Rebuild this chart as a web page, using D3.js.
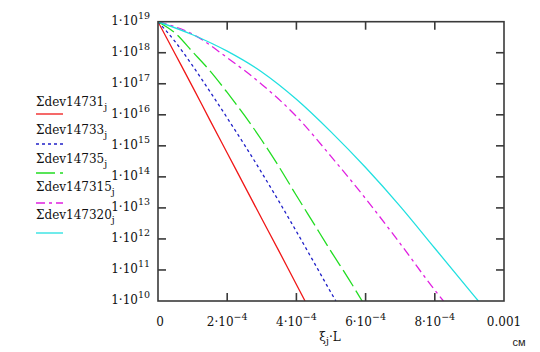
<!DOCTYPE html>
<html>
<head>
<meta charset="utf-8">
<script src="https://cdn.jsdelivr.net/npm/d3@7"></script>
<style>
  body { margin: 0; background: #fff; }
  svg { display: block; }
  .serif { font-family: "DejaVu Serif", "Liberation Serif", "Times New Roman", Tinos, serif; }
</style>
</head>
<body>
<div id="chart"></div>
<script>
// x values are in units of 1e-4 cm, y values are log10 of the quantity
const xTicks = [0, 2e-4, 4e-4, 6e-4, 8e-4, 1e-3];
const xTickLabels = [['0', ''], ['2·10', '−4'], ['4·10', '−4'], ['6·10', '−4'], ['8·10', '−4'], ['0.001', '']];
const yExponents = [10, 11, 12, 13, 14, 15, 16, 17, 18, 19];

const seriesNames = ['Σdev14731', 'Σdev14733', 'Σdev14735', 'Σdev147315', 'Σdev147320'];

const dev14731 = [[0, 19], [0.5, 17.95], [1, 16.9], [1.5, 15.83], [2, 14.77], [2.5, 13.71], [3, 12.65], [3.5, 11.6], [4, 10.53], [4.25, 10]];
const dev14733 = [[0, 19], [0.5, 18.35], [1, 17.58], [1.5, 16.75], [2, 15.9], [2.5, 15.03], [3, 14.13], [3.5, 13.2], [4, 12.24], [4.5, 11.26], [5, 10.27], [5.14, 10]];
const dev14735 = [[0, 19], [0.5, 18.63], [1, 18.03], [1.5, 17.42], [2, 16.72], [2.5, 15.98], [3, 15.18], [3.5, 14.32], [4, 13.4], [4.5, 12.5], [5, 11.6], [5.5, 10.73], [5.9, 10]];
const dev147315 = [[0, 19], [1, 18.6], [2, 17.84], [3, 16.98], [4, 15.95], [5, 14.66], [6, 13.3], [7, 11.85], [8, 10.35], [8.25, 10]];
const dev147320 = [[0, 19], [1, 18.58], [2, 18.05], [3, 17.38], [4, 16.5], [5, 15.45], [6, 14.3], [7, 13.05], [8, 11.7], [9.26, 10]];

const seriesData = [dev14731, dev14733, dev14735, dev147315, dev147320];
const seriesColors = ['#f01818', '#2020c8', '#22dd22', '#e020e0', '#22e0e0'];
const seriesDash = [null, '3,3', '19,5', '9,4,3,4', null];

const W = 540, H = 352;
const plot = { left: 158, right: 504, top: 21.7, bottom: 301 };
const fontMain = 12, fontSmall = 9.5;

const svg = d3.select('#chart').append('svg')
  .attr('width', W).attr('height', H);

const x = d3.scaleLinear().domain([0, 1e-3]).range([plot.left, plot.right]);
const y = d3.scaleLog().domain([1e10, 1e19]).range([plot.bottom, plot.top]);

svg.append('clipPath').attr('id', 'clip')
  .append('rect')
  .attr('x', plot.left).attr('y', plot.top)
  .attr('width', plot.right - plot.left).attr('height', plot.bottom - plot.top);

// Curves
const lineGen = d3.line()
  .x((d) => x(d[0] * 1e-4))
  .y((d) => y(Math.pow(10, d[1])))
  .curve(d3.curveMonotoneX);

seriesData.forEach((rows, i) => {
  svg.append('path')
    .datum(rows)
    .attr('clip-path', 'url(#clip)')
    .attr('d', lineGen)
    .attr('fill', 'none')
    .attr('stroke', seriesColors[i])
    .attr('stroke-width', 1.3)
    .attr('stroke-dasharray', seriesDash[i]);
});

// Frame
const frameColor = '#3a3a3a';
svg.append('rect')
  .attr('x', plot.left).attr('y', plot.top)
  .attr('width', plot.right - plot.left).attr('height', plot.bottom - plot.top)
  .attr('fill', 'none')
  .attr('stroke', frameColor)
  .attr('stroke-width', 1.6);

// Ticks point inward on all four sides
const tickLen = 8;
xTicks.slice(1, -1).forEach((t) => {
  svg.append('line')
    .attr('x1', x(t)).attr('x2', x(t))
    .attr('y1', plot.bottom).attr('y2', plot.bottom - tickLen)
    .attr('stroke', frameColor).attr('stroke-width', 1.6);
  svg.append('line')
    .attr('x1', x(t)).attr('x2', x(t))
    .attr('y1', plot.top).attr('y2', plot.top + tickLen)
    .attr('stroke', frameColor).attr('stroke-width', 1.6);
});
yExponents.slice(1, -1).forEach((e) => {
  const yy = y(Math.pow(10, e));
  svg.append('line')
    .attr('x1', plot.left).attr('x2', plot.left + tickLen)
    .attr('y1', yy).attr('y2', yy)
    .attr('stroke', frameColor).attr('stroke-width', 1.6);
  svg.append('line')
    .attr('x1', plot.right).attr('x2', plot.right - tickLen)
    .attr('y1', yy).attr('y2', yy)
    .attr('stroke', frameColor).attr('stroke-width', 1.6);
});

// Y tick labels: 1·10^n
yExponents.forEach((e) => {
  const t = svg.append('text')
    .attr('class', 'serif')
    .attr('x', 150)
    .attr('y', y(Math.pow(10, e)) + 3)
    .attr('text-anchor', 'end')
    .attr('font-size', fontMain)
    .attr('fill', '#111');
  t.append('tspan').text('1·10');
  t.append('tspan').attr('dy', -6).attr('font-size', fontSmall).text(e);
});

// X tick labels
xTicks.forEach((t, i) => {
  const [base, sup] = xTickLabels[i];
  const txt = svg.append('text')
    .attr('class', 'serif')
    .attr('x', x(t) + (i === 0 ? 2 : 0))
    .attr('y', 326)
    .attr('text-anchor', 'middle')
    .attr('font-size', fontMain)
    .attr('fill', '#111');
  txt.append('tspan').text(base);
  if (sup) txt.append('tspan').attr('dy', -6).attr('font-size', fontSmall).text(sup);
});

// X axis title
const xt = svg.append('text')
  .attr('class', 'serif')
  .attr('x', 330).attr('y', 341)
  .attr('text-anchor', 'middle')
  .attr('font-size', fontMain)
  .attr('fill', '#111');
xt.append('tspan').text('ξ');
xt.append('tspan').attr('dy', 3).attr('font-size', fontSmall).text('j');
xt.append('tspan').attr('dy', -3).text('·L');

svg.append('text')
  .attr('x', 519).attr('y', 346)
  .attr('text-anchor', 'middle')
  .attr('font-family', 'Arial, "Liberation Sans", sans-serif')
  .attr('font-size', 11)
  .attr('fill', '#222')
  .text('см');

// Legend
const legendTextY = [106, 134, 163, 191, 219];
const legendLineY = [114, 144, 173, 203, 233];
seriesNames.forEach((name, i) => {
  const t = svg.append('text')
    .attr('class', 'serif')
    .attr('x', 36).attr('y', legendTextY[i])
    .attr('font-size', fontMain)
    .attr('fill', '#111');
  t.append('tspan').text(name);
  t.append('tspan').attr('dy', 4).attr('font-size', fontSmall).text('j');
  svg.append('line')
    .attr('x1', 36).attr('x2', 63)
    .attr('y1', legendLineY[i]).attr('y2', legendLineY[i])
    .attr('stroke', seriesColors[i])
    .attr('stroke-width', 1.3)
    .attr('stroke-dasharray', seriesDash[i]);
});
</script>
</body>
</html>
